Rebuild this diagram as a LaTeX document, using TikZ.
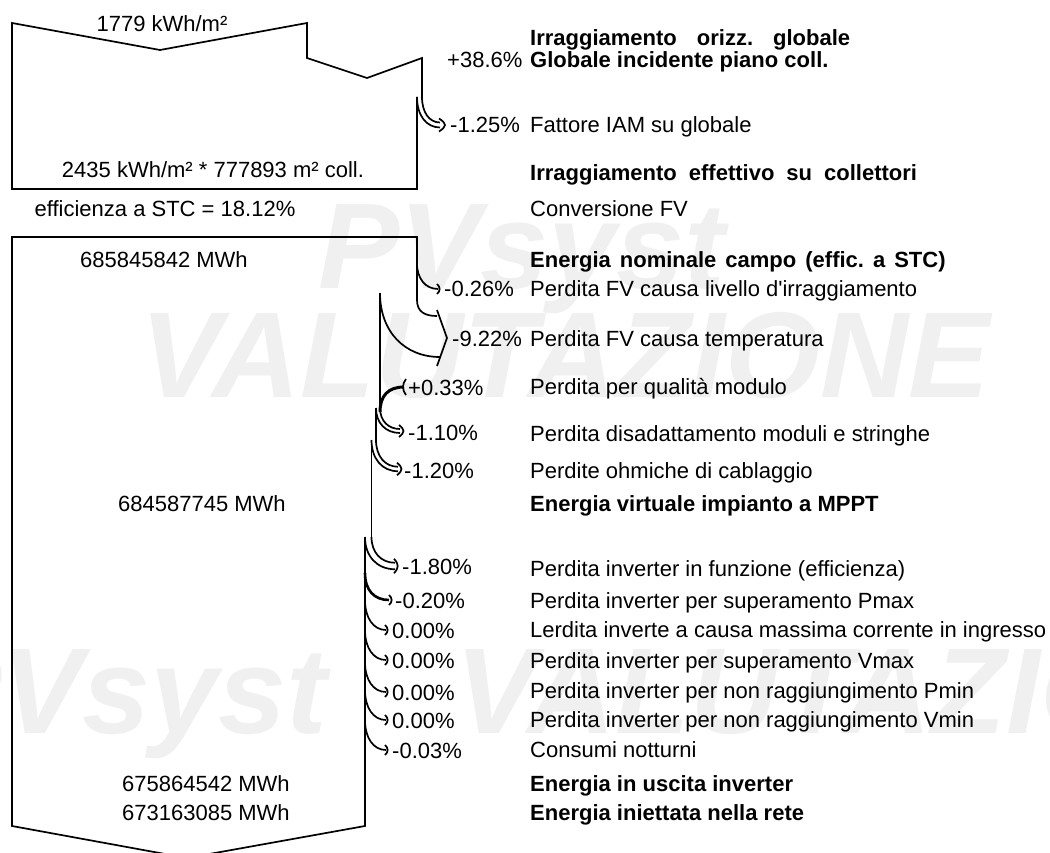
\documentclass[tikz,border=0pt]{standalone}
\usepackage{fontspec}
\setmainfont{Liberation Sans}
\newcommand\lossH[6]{% #1 xo, #2 w, #3 y0, #4 yc, #5 xe, #6 xt
 \draw[ln] (#1,#3) .. controls (#1,{#3+0.6*(#4-#2/2-#3)}) and ({#5-0.6*(#5-#1)},{#4-#2/2}) .. (#5,{#4-#2/2});
 \draw[ln] ({#1-#2},#3) .. controls ({#1-#2},{#3+0.6*(#4+#2/2-#3)}) and ({#5-0.6*(#5-#1+#2)},{#4+#2/2}) .. (#5,{#4+#2/2});
 \draw[ln] ({#5-1},{#4-#2/2-4}) .. controls ({#6+1},{#4-#2/4}) and ({#6+1},{#4+#2/4}) .. ({#5-1},{#4+#2/2+4});
}
\newcommand\lossT[4]{% #1 xo, #2 y0, #3 yc, #4 xe
 \draw[ln] (#1,#2) .. controls (#1,{#2+0.6*(#3-#2)}) and ({#4-0.6*(#4-#1)},#3) .. (#4,#3);
 \draw[ln] ({#4-1},{#3-5}) .. controls ({#4+2.5},{#3-2}) and ({#4+2.5},{#3+2}) .. ({#4-1},{#3+5});
}
\begin{document}
\begin{tikzpicture}[x=1pt,y=-1pt,
  ln/.style={line width=1.7pt, line join=miter, line cap=butt},
  txt/.style={anchor=base west, inner sep=0pt, font=\fontsize{22}{26}\selectfont},
  btxt/.style={anchor=base west, inner sep=0pt, font=\fontsize{22}{26}\selectfont\bfseries},
  ctxt/.style={anchor=base, inner sep=0pt, font=\fontsize{22}{26}\selectfont},
  wm/.style={anchor=base west, inner sep=0pt, text=black!6, font=\fontsize{122}{130}\selectfont\bfseries\itshape}]
\useasboundingbox (0,0) rectangle (1050,853);
\begin{scope}
\clip (0,0) rectangle (1050,853);
% watermark
\node[wm] (wm1) at (318,289) {PVsyst};
\node[wm] (wm2) at (140,397) {VALUTAZIONE};
\node[wm] (wm3) at (-80,733) {PVsyst};
\node[wm] (wm4) at (455,733) {VALUTAZIONE};

% ---------- top box ----------
\draw[ln] (422,97) -- (422,58) -- (367,78) -- (307,58) -- (307,23) -- (160,50) -- (12,23) -- (12,189) -- (417,189) -- (417,97);
\lossH{422}{5}{97}{125}{440}{446}

% ---------- main box ----------
\draw[ln] (417,300) -- (417,237) -- (12,237) -- (12,826) -- (187,858) -- (365,826) -- (365,537);
\lossT{417}{263}{289}{438}
% -9.22%
\draw[ln] (417,300) .. controls (417,312) and (425,316) .. (437,316);
\draw[ln] (380,293) .. controls (380,332) and (405,357) .. (440,357);
\draw[ln] (437,310) -- (447,338) -- (437,366);
\draw[ln] (380,293) -- (380,408);
% +0.33%
\draw[line width=3pt] (404,387) .. controls (388,387) and (380,396) .. (380,412);
\draw[ln] (406,379) .. controls (402,384) and (402,390) .. (406,395);
% -1.10%
\lossH{380}{4}{408}{431}{400}{404}
\draw[ln] (376,408) -- (376,440);
% -1.20%
\lossH{376}{4.5}{440}{469}{398}{402}
\draw[ln] (371.5,440) -- (371.5,537);
% -1.80%
\lossH{371.5}{6.5}{537}{566}{395}{398}
% -0.20%
\draw[line width=2.6pt] (365,573) .. controls (365,590) and (374,600) .. (389,600);
\draw[ln] (389,595) .. controls (392.5,598) and (392.5,602) .. (389,605);
% 0.00% and -0.03%
\lossT{365}{600}{630}{386}
\lossT{365}{630}{660}{386}
\lossT{365}{662}{692}{386}
\lossT{365}{690}{720}{386}
\lossT{365}{720}{750}{386}
\end{scope}

% ---------- left texts ----------
\node[ctxt] (t1) at (162,32) {1779 kWh/m²};
\node[ctxt] (t2) at (213,178) {2435 kWh/m² * 777893 m² coll.};
\node[ctxt] (t3) at (165,217) {efficienza a STC = 18.12\%};
\node[ctxt] (t4) at (164,268) {685845842 MWh};
\node[ctxt] (t5) at (202,511) {684587745 MWh};
\node[ctxt] (t6) at (206,791) {675864542 MWh};
\node[ctxt] (t7) at (206,820) {673163085 MWh};

% ---------- percentages ----------
\node[txt] (p1) at (447,68) {+38.6\%};
\node[txt] (p2) at (450,133) {-1.25\%};
\node[txt] (p3) at (444,297) {-0.26\%};
\node[txt] (p4) at (452,346) {-9.22\%};
\node[txt] (p5) at (408,395) {+0.33\%};
\node[txt] (p6) at (408,440) {-1.10\%};
\node[txt] (p7) at (404,478) {-1.20\%};
\node[txt] (p8) at (402,574) {-1.80\%};
\node[txt] (p9) at (395,608) {-0.20\%};
\node[txt] (p10) at (392,638) {0.00\%};
\node[txt] (p11) at (392,668) {0.00\%};
\node[txt] (p12) at (392,700) {0.00\%};
\node[txt] (p13) at (392,728) {0.00\%};
\node[txt] (p14) at (392,758) {-0.03\%};

% ---------- descriptions ----------
\node[btxt] (d1) at (530,46) {Irraggiamento\hspace{20pt}orizz.\hspace{20pt}globale};
\node[btxt] (d2) at (530,68) {Globale incidente piano coll.};
\node[txt] (d3) at (530,133) {Fattore IAM su globale};
\node[btxt] (d4) at (530,181) {Irraggiamento\hspace{12pt}effettivo\hspace{12pt}su\hspace{12pt}collettori};
\node[txt] (d5) at (530,217) {Conversione FV};
\node[btxt] (d6) at (530,268) {Energia\hspace{9pt}nominale\hspace{9pt}campo\hspace{9pt}(effic.\hspace{9pt}a\hspace{9pt}STC)};
\node[txt] (d7) at (530,297) {Perdita FV causa livello d\textquotesingle irraggiamento};
\node[txt] (d8) at (530,346) {Perdita FV causa temperatura};
\node[txt] (d9) at (530,394) {Perdita per qualità modulo};
\node[txt] (d10) at (530,441) {Perdita disadattamento moduli e stringhe};
\node[txt] (d11) at (530,478) {Perdite ohmiche di cablaggio};
\node[btxt] (d12) at (530,511) {Energia virtuale impianto a MPPT};
\node[txt] (d13) at (530,576) {Perdita inverter in funzione (efficienza)};
\node[txt] (d14) at (530,608) {Perdita inverter per superamento Pmax};
\node[txt] (d15) at (530,637) {Lerdita inverte a causa massima corrente in ingresso};
\node[txt] (d16) at (530,668) {Perdita inverter per superamento Vmax};
\node[txt] (d17) at (530,698) {Perdita inverter per non raggiungimento Pmin};
\node[txt] (d18) at (530,727) {Perdita inverter per non raggiungimento Vmin};
\node[txt] (d19) at (530,757) {Consumi notturni};
\node[btxt] (d20) at (530,791) {Energia in uscita inverter};
\node[btxt] (d21) at (530,820) {Energia iniettata nella rete};
\end{tikzpicture}
\end{document}
